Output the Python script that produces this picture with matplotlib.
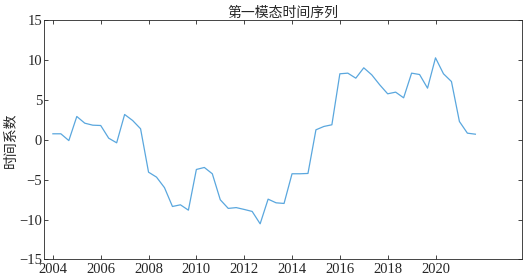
import matplotlib
matplotlib.use("Agg")
import matplotlib.pyplot as plt
import numpy as np

plt.rcParams['font.family'] = ['Liberation Serif', 'Noto Sans CJK SC', 'DejaVu Sans']

start_year = 2004
step = 1/3
values = [0.75, 0.75, -0.1, 2.92, 2.08, 1.83, 1.79, 0.2, -0.38, 3.17,
          2.42, 1.38, -4.06, -4.68, -6.0, -8.36, -8.15, -8.82, -3.72, -3.47,
          -4.26, -7.52, -8.6, -8.5, -8.73, -8.98, -10.53, -7.44, -7.9, -7.98,
          -4.26, -4.26, -4.22, 1.25, 1.67, 1.88, 8.27, 8.35, 7.72, 9.02,
          8.14, 6.89, 5.76, 5.97, 5.26, 8.35, 8.18, 6.47, 10.27, 8.27,
          7.3, 2.29, 0.83, 0.7]
years = start_year + step * np.arange(len(values))
xticks = [2004, 2006, 2008, 2010, 2012, 2014, 2016, 2018, 2020]
yticks = [-15, -10, -5, 0, 5, 10, 15]
title = "第一模态时间序列"
ylabel = "时间系数"

fig = plt.figure(figsize=(5.29, 2.79), dpi=100)
ax = fig.add_axes([0.0837, 0.070, 0.9023, 0.858])
ax.plot(years, values, color='#5AA7DE', linewidth=0.9)
ax.set_xlim(2003.64, 2023.6)
ax.set_ylim(-15, 15)
ax.set_xticks(xticks)
ax.set_yticks(yticks)
ax.tick_params(direction='in', top=True, right=True, length=3, width=0.6,
               labelsize=10.5, colors='#262626')
ax.tick_params(axis='x', pad=2.5)
ax.tick_params(axis='y', pad=1.5)
for s in ax.spines.values():
    s.set_linewidth(0.6)
    s.set_color('#262626')
ax.set_title(title, fontsize=10, pad=2, color='#262626')
ax.set_ylabel(ylabel, fontsize=10, labelpad=1, color='#262626')
fig.savefig("out.png", dpi=100)
